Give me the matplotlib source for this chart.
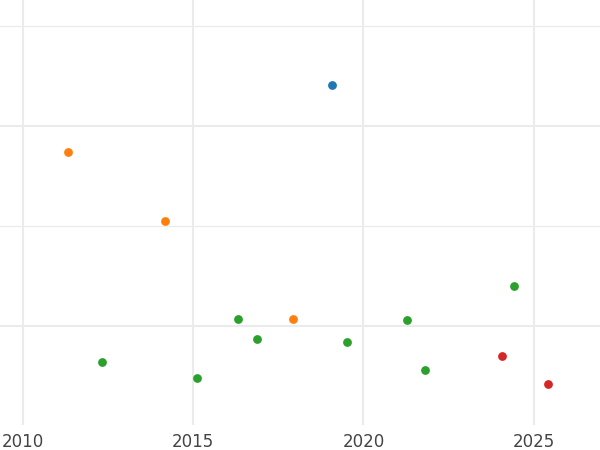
import matplotlib.pyplot as plt
import numpy as np
from matplotlib.ticker import MultipleLocator

# values
blue_x = [2019.08]
blue_y = [1.205]
orange_x = [2011.33, 2014.18, 2017.93]
orange_y = [0.87, 0.525, 0.035]
green_x = [2012.33, 2015.12, 2016.32, 2016.88, 2019.52, 2021.28, 2021.80, 2024.41]
green_y = [-0.18, -0.26, 0.035, -0.065, -0.08, 0.03, -0.22, 0.20]
red_x = [2024.06, 2025.41]
red_y = [-0.15, -0.29]

fig = plt.figure(figsize=(6, 4.5), dpi=100)
ax = fig.add_axes([0, 0.0556, 1, 0.9444])

ax.scatter(blue_x, blue_y, color='#1f77b4', s=40, zorder=3, linewidths=0)
ax.scatter(orange_x, orange_y, color='#ff7f0e', s=40, zorder=3, linewidths=0)
ax.scatter(green_x, green_y, color='#2ca02c', s=40, zorder=3, linewidths=0)
ax.scatter(red_x, red_y, color='#d62728', s=40, zorder=3, linewidths=0)

ax.set_xlim(2009.34, 2026.94)
ax.set_ylim(-0.495, 1.63)
ax.xaxis.set_major_locator(MultipleLocator(5))
ax.yaxis.set_major_locator(MultipleLocator(1))
ax.yaxis.set_minor_locator(MultipleLocator(0.5))

ax.grid(True, which='major', color='#ebebeb', linewidth=1.5)
ax.grid(True, which='minor', axis='y', color='#ebebeb', linewidth=0.9)
ax.set_axisbelow(True)
for s in ax.spines.values():
    s.set_visible(False)
ax.tick_params(axis='x', length=0, labelsize=12, labelcolor='#444444', pad=6)
ax.tick_params(axis='y', which='both', length=0, labelleft=False)

fig.savefig('out.png', dpi=100)
